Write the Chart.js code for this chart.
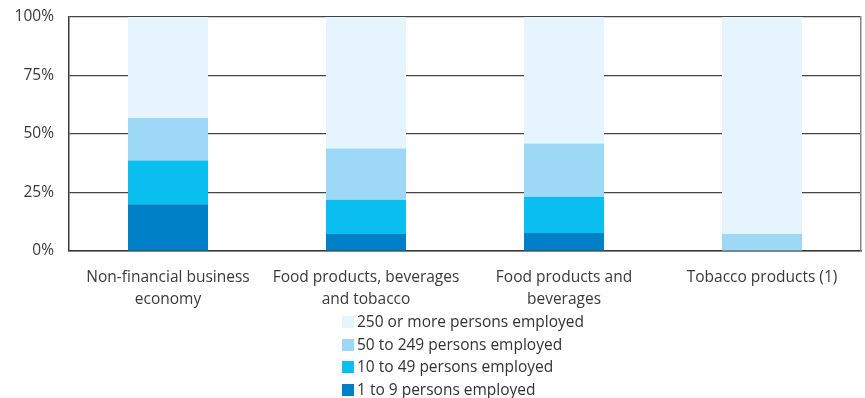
<!DOCTYPE html>
<html>
<head>
<meta charset="utf-8">
<script src="https://cdn.jsdelivr.net/npm/chart.js@4"></script>
<style>
  body { margin: 0; background: #fff; }
  #wrap { position: relative; width: 865px; height: 398px; }
  #legend { position: absolute; left: 342px; top: 310px; font: 15.5px "Open Sans", sans-serif; color: #333; }
  #legend div { height: 22.6px; line-height: 22.6px; white-space: nowrap; }
  #legend span { display: inline-block; width: 12px; height: 12px; margin-right: 3px; vertical-align: -1px; }
</style>
</head>
<body>
<div id="wrap">
  <canvas id="sizeChart" width="865" height="398"></canvas>
  <div id="legend"></div>
</div>
<script>
// size classes, share of enterprises (%)
const sectors = [
  ["Non-financial business", "economy"],
  ["Food products, beverages", "and tobacco"],
  ["Food products and", "beverages"],
  "Tobacco products (1)"
];
const micro  = [20.0, 7.3, 7.7, 0];
const small  = [18.7, 14.6, 15.5, 0];
const medium = [18.1, 21.9, 22.7, 7.3];
const large  = [43.2, 56.2, 54.1, 92.7];
const yTicks = [0, 25, 50, 75, 100];

const sizeClasses = [
  { label: "1 to 9 persons employed", data: micro, color: "#0080c6" },
  { label: "10 to 49 persons employed", data: small, color: "#0abff0" },
  { label: "50 to 249 persons employed", data: medium, color: "#9dd9f7" },
  { label: "250 or more persons employed", data: large, color: "#e6f5fd" }
];

Chart.defaults.font.family = "'Open Sans', sans-serif";
Chart.defaults.font.size = 15.5;
Chart.defaults.color = "#3a3a3a";

// legend list under the axis, largest class on top
const htmlLegend = {
  id: "htmlLegend",
  afterUpdate(chart){
    const box = document.getElementById("legend");
    box.innerHTML = "";
    const items = chart.options.plugins.legend.labels.generateLabels(chart).reverse();
    items.forEach(it => {
      const row = document.createElement("div");
      const sw = document.createElement("span");
      sw.style.background = it.fillStyle;
      row.appendChild(sw);
      row.appendChild(document.createTextNode(it.text));
      box.appendChild(row);
    });
  }
};

new Chart(document.getElementById("sizeChart"), {
  type: "bar",
  data: {
    labels: sectors,
    datasets: sizeClasses.map(s => ({
      label: s.label,
      data: s.data,
      backgroundColor: s.color,
      borderWidth: 0,
      categoryPercentage: 1,
      barPercentage: 0.404
    }))
  },
  options: {
    responsive: false,
    animation: false,
    layout: { padding: { top: 17, left: 12, right: 4, bottom: 80 } },
    plugins: {
      legend: { display: false },
      tooltip: { enabled: false }
    },
    scales: {
      x: {
        stacked: true,
        grid: { display: false },
        border: { color: "#3a3a3a", width: 1.5 },
        ticks: { maxRotation: 0, autoSkip: false, padding: 7, color: "#3a3a3a",
                 font: { lineHeight: 1.45 } }
      },
      y: {
        stacked: true,
        min: 0,
        max: 100,
        afterBuildTicks(scale){ scale.ticks = yTicks.map(v => ({ value: v })); },
        afterFit(scale){
          scale.width = 57;
          scale.paddingTop = 0;
          scale.paddingBottom = 0;
        },
        grid: { color: "#444", lineWidth: 1.2, drawTicks: false },
        border: { color: "#3a3a3a", width: 1.5 },
        ticks: { padding: 15, callback: v => v + "%" }
      },
      y2: {
        position: "right",
        min: 0,
        max: 100,
        grid: { drawOnChartArea: false, drawTicks: false },
        border: { color: "#888", width: 1.5 },
        ticks: { display: false }
      }
    }
  },
  plugins: [htmlLegend]
});
</script>
</body>
</html>
